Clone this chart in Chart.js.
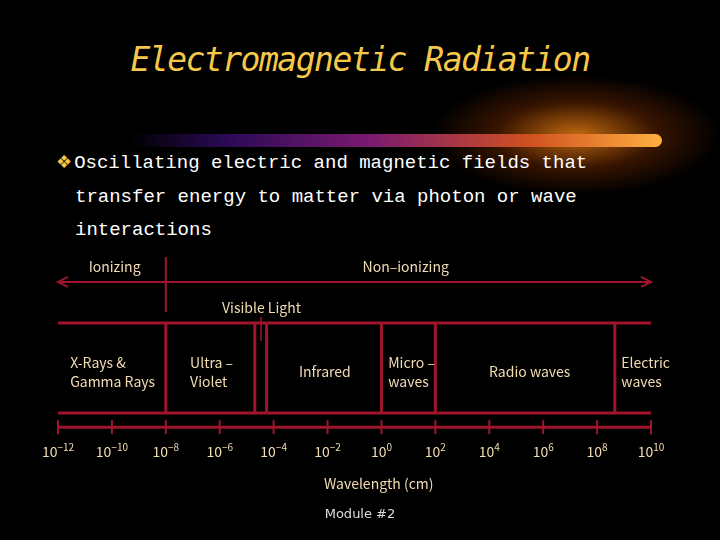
<!DOCTYPE html>
<html lang="en">
<head>
<meta charset="UTF-8" />
<title>Electromagnetic Radiation</title>
<script src="https://cdn.jsdelivr.net/npm/chart.js"></script>
<style>
  body { margin:0; background:#000; }
  #slide { position:relative; width:720px; height:540px; overflow:hidden; background:#000; font-family:"Noto Sans CJK JP","DejaVu Sans",sans-serif; }
  #glow { position:absolute; left:400px; top:60px; width:320px; height:150px;
    background:radial-gradient(ellipse 45% 40% at 55% 50%, rgba(255,140,20,0.75), rgba(160,60,0,0.35) 55%, rgba(0,0,0,0) 100%); }
  #bar { position:absolute; left:130px; top:134px; width:532px; height:13px; border-radius:0 7px 7px 0;
    background:linear-gradient(90deg, #000 0%, #2a0a55 18%, #7a1a70 45%, #d05020 75%, #ffb040 100%); }
  #title { position:absolute; left:0; width:720px; top:40px; text-align:center; color:#f5c84a;
    font-family:"DejaVu Sans Mono","Liberation Mono",monospace; font-style:italic; font-size:33px; letter-spacing:-1.5px; }
  #bullet { position:absolute; left:56px; top:145px; color:#fff; font-family:"Liberation Mono","DejaVu Sans Mono",monospace; font-size:19px; line-height:33.5px; }
  #bullet span.b { color:#f5c84a; font-family:"DejaVu Sans",sans-serif; font-size:18px; margin-right:2px; }
  #bullet .ind { padding-left:19px; }
  #foot { position:absolute; left:0; width:720px; top:506px; text-align:center; color:#ddd; font-family:"DejaVu Sans",sans-serif; font-size:13px; }
  canvas { position:absolute; left:0; top:0; }
</style>
</head>
<body>
<div id="slide">
  <div id="glow"></div>
  <div id="bar"></div>
  <div id="title">Electromagnetic Radiation</div>
  <div id="bullet"><span class="b">❖</span>Oscillating electric and magnetic fields that<br><span class="ind">transfer energy to matter via photon or wave</span><br><span class="ind">interactions</span></div>
  <canvas id="c" width="720" height="540"></canvas>
  <div id="foot">Module #2</div>
</div>
<script>
// wavelength exponents (10^n cm)
const tickExps = [-12, -10, -8, -6, -4, -2, 0, 2, 4, 6, 8, 10];
const bandEdges = [-8, -4.7, -4.26, 0, 2, 8.66];
const visibleMark = -4.47;
const ionizingLimit = -8;
const bandLabels = [
  { x: -11.55, lines: ['X-Rays &', 'Gamma Rays'], align: 'left' },
  { x: -7.1, lines: ['Ultra –', 'Violet'], align: 'left' },
  { x: -2.1, lines: ['Infrared'], align: 'center' },
  { x: 0.25, lines: ['Micro –', 'waves'], align: 'left' },
  { x: 5.5, lines: ['Radio waves'], align: 'center' },
  { x: 8.9, lines: ['Electric', 'waves'], align: 'left' }
];
// vertical levels (chart units 0..100)
const yTop = 40.2, yBot = 23.5, yAxis = 20.9, yArrow = 47.8;

const red = '#a0142c', tan = '#f2dcb4';
const seg = (x1, y1, x2, y2, w) => ({ data: [{x:x1,y:y1},{x:x2,y:y2}], borderColor: red, borderWidth: w || 2, pointRadius: 0, showLine: true, fill: false });

const datasets = [
  seg(-12, yTop, 10, yTop, 3),
  seg(-12, yBot, 10, yBot, 3),
  seg(-12, yAxis, 10, yAxis, 3),
  seg(-12, yArrow, 10, yArrow, 2),
  seg(ionizingLimit, 42.2, ionizingLimit, 52.4, 2),
  seg(visibleMark, 36.9, visibleMark, 41.3, 1.5)
];
bandEdges.forEach(e => datasets.push(seg(e, yBot, e, yTop, 3)));

const decor = {
  id: 'decor',
  afterDatasetsDraw(chart) {
    const { ctx, scales: { x, y } } = chart;
    ctx.save();
    ctx.strokeStyle = red; ctx.fillStyle = red; ctx.lineWidth = 2;
    // axis ticks
    tickExps.forEach(t => {
      const px = x.getPixelForValue(t), py = y.getPixelForValue(yAxis);
      ctx.beginPath(); ctx.moveTo(px, py - 7); ctx.lineTo(px, py + 7); ctx.stroke();
    });
    // arrow heads
    const ay = y.getPixelForValue(yArrow), l = x.getPixelForValue(-12), r = x.getPixelForValue(10);
    [[l, 1], [r, -1]].forEach(([px, d]) => {
      ctx.beginPath(); ctx.moveTo(px + d * 10, ay - 5); ctx.lineTo(px, ay); ctx.lineTo(px + d * 10, ay + 5); ctx.stroke();
    });
    ctx.fillStyle = tan; ctx.textBaseline = 'middle';
    ctx.font = '14px "Noto Sans CJK JP", sans-serif';
    // tick labels 10^n
    tickExps.forEach(t => {
      const px = x.getPixelForValue(t), py = y.getPixelForValue(16.3);
      ctx.font = '14px "Noto Sans CJK JP", sans-serif';
      const base = '10', w1 = ctx.measureText(base).width;
      ctx.font = '10px "Noto Sans CJK JP", sans-serif';
      const sup = String(t).replace('-', '−'), w2 = ctx.measureText(sup).width;
      const sx = px - (w1 + w2) / 2;
      ctx.textAlign = 'left';
      ctx.fillText(sup, sx + w1, py - 5);
      ctx.font = '14px "Noto Sans CJK JP", sans-serif';
      ctx.fillText(base, sx, py);
    });
    ctx.textAlign = 'center';
    ctx.fillText('Ionizing', x.getPixelForValue(-9.9), y.getPixelForValue(50.6));
    ctx.fillText('Non–ionizing', x.getPixelForValue(0.9), y.getPixelForValue(50.6));
    ctx.fillText('Visible Light', x.getPixelForValue(-4.45), y.getPixelForValue(43));
    ctx.fillText('Wavelength (cm)', x.getPixelForValue(-0.1), y.getPixelForValue(10.5));
    bandLabels.forEach(b => {
      ctx.textAlign = b.align;
      const mid = 31.1, step = 3.5;
      b.lines.forEach((s, i) => {
        const yy = mid + step * ((b.lines.length - 1) / 2 - i);
        ctx.fillText(s, x.getPixelForValue(b.x), y.getPixelForValue(yy));
      });
    });
    ctx.restore();
  }
};

new Chart(document.getElementById('c'), {
  type: 'scatter',
  data: { datasets },
  options: {
    responsive: false, animation: false, devicePixelRatio: 1,
    layout: { padding: { left: 58, right: 69, top: 0, bottom: 0 } },
    plugins: { legend: { display: false }, tooltip: { enabled: false } },
    scales: {
      x: { type: 'linear', min: -12, max: 10, display: false },
      y: { min: 0, max: 100, display: false }
    }
  },
  plugins: [decor]
});
</script>
</body>
</html>
